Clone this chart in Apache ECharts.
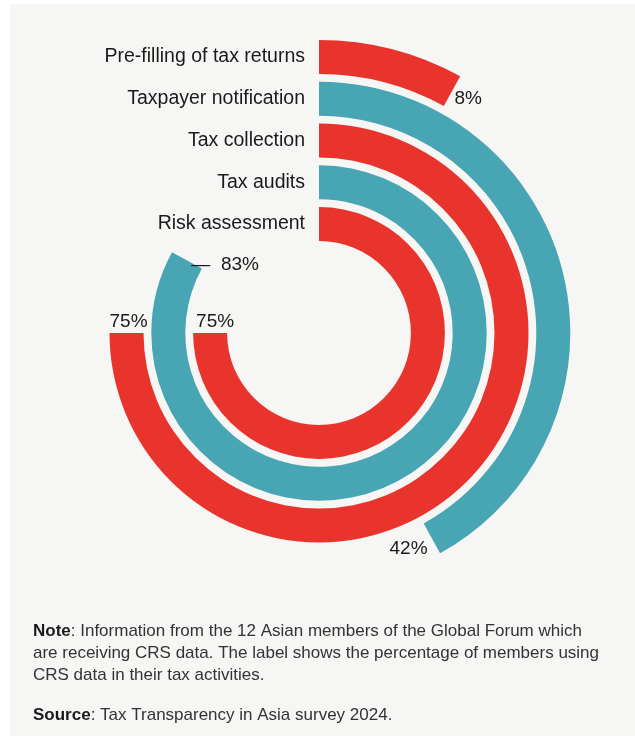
<!DOCTYPE html>
<html>
<head>
<meta charset="utf-8">
<script src="https://cdn.jsdelivr.net/npm/echarts@6/dist/echarts.min.js"></script>
<style>
  html, body { margin: 0; padding: 0; background: #ffffff; }
  #chart { width: 635px; height: 742px; }
</style>
</head>
<body>
<div id="chart"></div>
<script>
// Activities using CRS data, innermost ring first
const categories = [
  'Risk assessment',
  'Tax audits',
  'Tax collection',
  'Taxpayer notification',
  'Pre-filling of tax returns'
];
// Share of members (%) using CRS data for each activity
const shares = [75, 83, 75, 42, 8];

const ringColors = ['#e8342c', '#47a5b4'];
const FONT = "'Liberation Sans', Arial, sans-serif";

// Per-ring placement of the value label around the end of each arc
const labelTweaks = [
  { position: 'end', rotate: 0, offset: [-14, -6] },
  { position: 'end', rotate: 0, offset: [2, 9] },
  { position: 'end', rotate: 0, offset: [-17, -6] },
  { position: 'end', rotate: 0, offset: [-38, 8] },
  { position: 'end', rotate: 0, offset: [-2, 5] }
];

const chart = echarts.init(document.getElementById('chart'), null, { renderer: 'canvas' });

const option = {
  backgroundColor: '#ffffff',
  animation: false,
  polar: { center: [319, 333], radius: [88, 297] },
  angleAxis: {
    type: 'value', min: 0, max: 100, startAngle: 90, clockwise: true,
    show: false
  },
  radiusAxis: {
    type: 'category',
    data: categories,
    axisLine: { show: false },
    axisTick: { show: false },
    splitLine: { show: false },
    axisLabel: {
      show: true, interval: 0, margin: 14, fontFamily: FONT, fontSize: 19.5, color: '#1a1a1a'
    }
  },
  series: [{
    type: 'bar',
    coordinateSystem: 'polar',
    barWidth: 34,
    data: shares.map((v, i) => ({
      value: v,
      itemStyle: { color: ringColors[i % 2] },
      label: labelTweaks[i]
    })),
    label: {
      show: true,
      formatter: p => (p.dataIndex === 1 ? '—  ' : '') + p.value + '%',
      fontFamily: FONT, fontSize: 19, color: '#1a1a1a'
    }
  }],
  graphic: [
    {
      type: 'rect', z: -10, silent: true,
      shape: { x: 10, y: 4, width: 625, height: 732 },
      style: { fill: '#f6f6f4' }
    },
    {
      type: 'text', left: 33, top: 620,
      style: {
        text: '{b|Note}: Information from the 12 Asian members of the Global Forum which\nare receiving CRS data. The label shows the percentage of members using\nCRS data in their tax activities.',
        rich: { b: { fontWeight: 'bold', fontFamily: FONT, fontSize: 17, fill: '#1a1a1a' } },
        fontFamily: FONT, fontSize: 17, lineHeight: 22, fill: '#333333'
      }
    },
    {
      type: 'text', left: 33, top: 704,
      style: {
        text: '{b|Source}: Tax Transparency in Asia survey 2024.',
        rich: { b: { fontWeight: 'bold', fontFamily: FONT, fontSize: 17, fill: '#1a1a1a' } },
        fontFamily: FONT, fontSize: 17, lineHeight: 22, fill: '#333333'
      }
    }
  ]
};
chart.setOption(option);
</script>
</body>
</html>
